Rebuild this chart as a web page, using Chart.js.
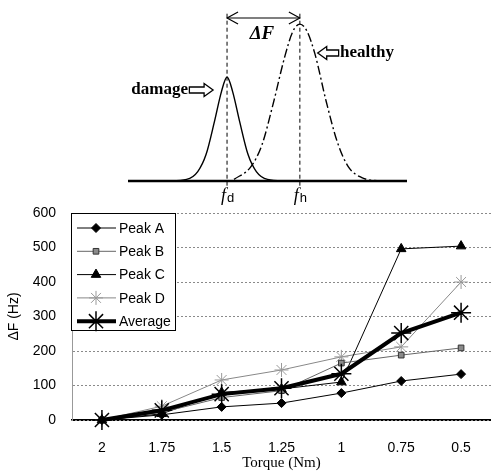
<!DOCTYPE html>
<html><head><meta charset="utf-8">
<script src="https://cdn.jsdelivr.net/npm/chart.js@4/dist/chart.umd.min.js"></script>
<style>
html,body{margin:0;padding:0;background:#fff;width:491px;height:471px;overflow:hidden;position:relative}
#top{position:absolute;left:0;top:0}
#bot{position:absolute;left:0;top:200px}
</style></head><body>
<canvas id="top" width="491" height="215"></canvas>
<canvas id="bot" width="491" height="285"></canvas>
<script>
// ---- Bottom chart data (ΔF in Hz vs torque) ----
const torqueLabels = ['2', '1.75', '1.5', '1.25', '1', '0.75', '0.5'];
const peakA   = [0, 15, 38, 49, 78, 113, 133];
const peakB   = [0, 22, 65, 85, 165, 188, 209];
const peakC   = [0, 18, 80, 90, 110, 496, 504];
const peakD   = [0, 40, 116, 145, 183, 212, 400];
const average = [0, 28, 75, 92, 134, 252, 311];
const yTickValues = [0, 100, 200, 300, 400, 500, 600];

// ---- Top schematic data (frequency in arbitrary units, relative amplitude) ----
const damageFreq = [14, 21, 25, 28, 31, 33.5, 35.5, 37.5, 40, 43, 46, 50, 57];
const damageAmp  = [0, 0.01, 0.06, 0.17, 0.38, 0.57, 0.663, 0.57, 0.38, 0.17, 0.06, 0.01, 0];
const healthyFreq = [38, 44, 48, 52, 56, 59, 61.6, 64, 67, 71, 75, 79, 84, 90];
const healthyAmp  = [0.01, 0.09, 0.23, 0.49, 0.78, 0.95, 1.0, 0.96, 0.81, 0.51, 0.25, 0.09, 0.02, 0];
const fDamage = 35.5;
const fHealthy = 61.6;

const pts = (xs, ys) => xs.map((x, i) => ({x, y: ys[i]}));

// ---------- Top schematic ----------
const schematicPlugin = {
  id: 'schematic',
  afterDatasetsDraw(chart) {
    const ctx = chart.ctx, sx = chart.scales.x, sy = chart.scales.y;
    const X = v => sx.getPixelForValue(v), Y = v => sy.getPixelForValue(v);
    ctx.save();
    ctx.strokeStyle = '#000'; ctx.fillStyle = '#000'; ctx.lineWidth = 1.2;
    // open arrowheads of ΔF span
    const ay = Y(1.039), xl = X(fDamage), xr = X(fHealthy);
    ctx.beginPath();
    ctx.moveTo(xl + 11, ay - 6); ctx.lineTo(xl, ay); ctx.lineTo(xl + 11, ay + 6);
    ctx.moveTo(xr - 11, ay - 6); ctx.lineTo(xr, ay); ctx.lineTo(xr - 11, ay + 6);
    ctx.stroke();
    // texts
    ctx.textBaseline = 'middle';
    ctx.textAlign = 'center';
    ctx.font = 'italic bold 19px "Liberation Serif"';
    ctx.fillText('ΔF', X(48), Y(0.935));
    ctx.font = 'bold 17px "Liberation Serif"';
    ctx.textAlign = 'left';
    ctx.fillText('healthy', X(76), Y(0.816));
    ctx.textAlign = 'right';
    ctx.fillText('damage', X(21.5), Y(0.58));
    // hollow arrows
    function hollow(xTail, xTip, y) {
      const d = Math.sign(xTip - xTail), hl = 9, sh = 3, hh = 6.5;
      ctx.beginPath();
      ctx.moveTo(xTail, y - sh);
      ctx.lineTo(xTip - d * hl, y - sh);
      ctx.lineTo(xTip - d * hl, y - hh);
      ctx.lineTo(xTip, y);
      ctx.lineTo(xTip - d * hl, y + hh);
      ctx.lineTo(xTip - d * hl, y + sh);
      ctx.lineTo(xTail, y + sh);
      ctx.closePath();
      ctx.fillStyle = '#fff'; ctx.fill();
      ctx.lineWidth = 1.3; ctx.stroke();
      ctx.fillStyle = '#000';
    }
    hollow(X(75.5), X(68), Y(0.816));
    hollow(X(22), X(30.5), Y(0.58));
    // frequency labels
    function flabel(xv, sub) {
      const x = X(xv), y = Y(-0.095);
      ctx.textAlign = 'left';
      ctx.font = 'italic 18px "Liberation Serif"';
      ctx.fillText('f', x - 6, y);
      ctx.font = '13px "Liberation Sans"';
      ctx.fillText(sub, x, y + 3);
    }
    flabel(fDamage, 'd');
    flabel(fHealthy, 'h');
    ctx.restore();
  }
};

new Chart(document.getElementById('top'), {
  type: 'scatter',
  data: {
    datasets: [
      {data: [{x: 0, y: 0}, {x: 100, y: 0}], showLine: true, borderColor: '#000', borderWidth: 2.5, pointRadius: 0, clip: false},
      {data: pts(damageFreq, damageAmp), showLine: true, borderColor: '#000', borderWidth: 1.4, pointRadius: 0, tension: 0.4, cubicInterpolationMode: 'monotone', clip: false},
      {data: pts(healthyFreq, healthyAmp), showLine: true, borderColor: '#000', borderWidth: 1.4, borderDash: [9, 3, 2, 3], pointRadius: 0, tension: 0.4, cubicInterpolationMode: 'monotone', clip: false},
      {data: [{x: fDamage, y: -0.03}, {x: fDamage, y: 1.077}], showLine: true, borderColor: '#000', borderWidth: 1, borderDash: [4, 3], pointRadius: 0, clip: false},
      {data: [{x: fHealthy, y: -0.03}, {x: fHealthy, y: 1.077}], showLine: true, borderColor: '#000', borderWidth: 1, borderDash: [4, 3], pointRadius: 0, clip: false},
      {data: [{x: fDamage, y: 1.039}, {x: fHealthy, y: 1.039}], showLine: true, borderColor: '#000', borderWidth: 1.2, pointRadius: 0, clip: false}
    ]
  },
  options: {
    responsive: false, animation: false,
    layout: {autoPadding: false, padding: {left: 128, right: 84, top: 10, bottom: 34}},
    scales: {
      x: {type: 'linear', min: 0, max: 100, display: false},
      y: {type: 'linear', min: 0, max: 1.09, display: false}
    },
    plugins: {legend: {display: false}, tooltip: {enabled: false}}
  },
  plugins: [schematicPlugin]
});

// ---------- Bottom chart ----------
const insetLegend = {
  id: 'insetLegend',
  afterDraw(chart) {
    const ctx = chart.ctx;
    const left = chart.chartArea.left - 1, top = chart.chartArea.top, w = 104, h = 117;
    ctx.save();
    ctx.fillStyle = '#fff';
    ctx.fillRect(left, top, w, h);
    ctx.strokeStyle = '#000'; ctx.lineWidth = 1;
    ctx.strokeRect(left + 0.5, top + 0.5, w, h);
    chart.data.datasets.forEach((ds, i) => {
      const y = top + 15 + i * 23.3;
      ctx.strokeStyle = ds.borderColor;
      ctx.lineWidth = ds.borderWidth;
      ctx.setLineDash([]);
      ctx.beginPath(); ctx.moveTo(left + 6, y); ctx.lineTo(left + 45, y); ctx.stroke();
      ctx.fillStyle = ds.pointBackgroundColor;
      ctx.strokeStyle = ds.pointBorderColor;
      ctx.lineWidth = ds.pointBorderWidth;
      Chart.helpers.drawPoint(ctx, {
        pointStyle: ds.pointStyle, radius: ds.pointRadius, rotation: 0,
        borderWidth: ds.pointBorderWidth
      }, left + 25, y);
      ctx.fillStyle = '#000';
      ctx.font = '14px "Liberation Sans"';
      ctx.textAlign = 'left'; ctx.textBaseline = 'middle';
      ctx.fillText(ds.label, left + 48, y + 1);
    });
    ctx.restore();
  }
};

const ds = (label, data, color, width, style, radius, bg, bc, bw, order) => ({
  label, data, borderColor: color, borderWidth: width, pointStyle: style, pointRadius: radius,
  pointBackgroundColor: bg, pointBorderColor: bc, pointBorderWidth: bw,
  tension: 0, order, clip: false
});

new Chart(document.getElementById('bot'), {
  type: 'line',
  data: {
    labels: torqueLabels,
    datasets: [
      ds('Peak A', peakA, '#000', 1, 'rectRot', 4.5, '#000', '#000', 1, 2),
      ds('Peak B', peakB, '#666', 1, 'rect', 4, '#8a8a8a', '#333', 1, 2),
      ds('Peak C', peakC, '#000', 1, 'triangle', 5.5, '#000', '#000', 1, 2),
      ds('Peak D', peakD, '#888', 1, 'star', 7, '#fff', '#999', 1, 2),
      ds('Average', average, '#000', 4, 'star', 10, '#000', '#000', 1.5, 1)
    ]
  },
  options: {
    responsive: false, animation: false,
    layout: {autoPadding: false, padding: {left: 0, right: 0, top: 13, bottom: 0}},
    scales: {
      x: {
        type: 'category', offset: true,
        grid: {display: true, drawOnChartArea: false, drawTicks: true, tickLength: 20, tickColor: 'rgba(0,0,0,0)', color: 'rgba(0,0,0,0)'},
        border: {display: true, color: '#000', width: 1.5},
        ticks: {color: '#000', font: {size: 14, family: '"Liberation Sans"'}, padding: 0},
        title: {display: true, text: 'Torque (Nm)', color: '#000', font: {size: 15, family: '"Liberation Serif"'}, padding: {top: 0, bottom: 13}},
        afterFit(s) { s.height = 65; }
      },
      y: {
        min: 0, max: 600,
        afterBuildTicks(s) { s.ticks = yTickValues.map(v => ({value: v})); },
        grid: {drawTicks: true, tickLength: 16, tickColor: 'rgba(0,0,0,0)', color: ctx => ctx.tick && ctx.tick.value === 0 ? '#000' : '#8a8a8a', lineWidth: 1},
        border: {display: true, color: '#999', dash: [2, 2]},
        ticks: {color: '#000', font: {size: 14, family: '"Liberation Sans"'}, padding: 0},
        title: {display: true, text: 'ΔF (Hz)', color: '#000', font: {size: 14, family: '"Liberation Sans"'}, padding: {top: 6, bottom: 0}},
        afterFit(s) { s.width = 72; }
      }
    },
    plugins: {legend: {display: false}, tooltip: {enabled: false}}
  },
  plugins: [insetLegend]
});
</script>
</body></html>
